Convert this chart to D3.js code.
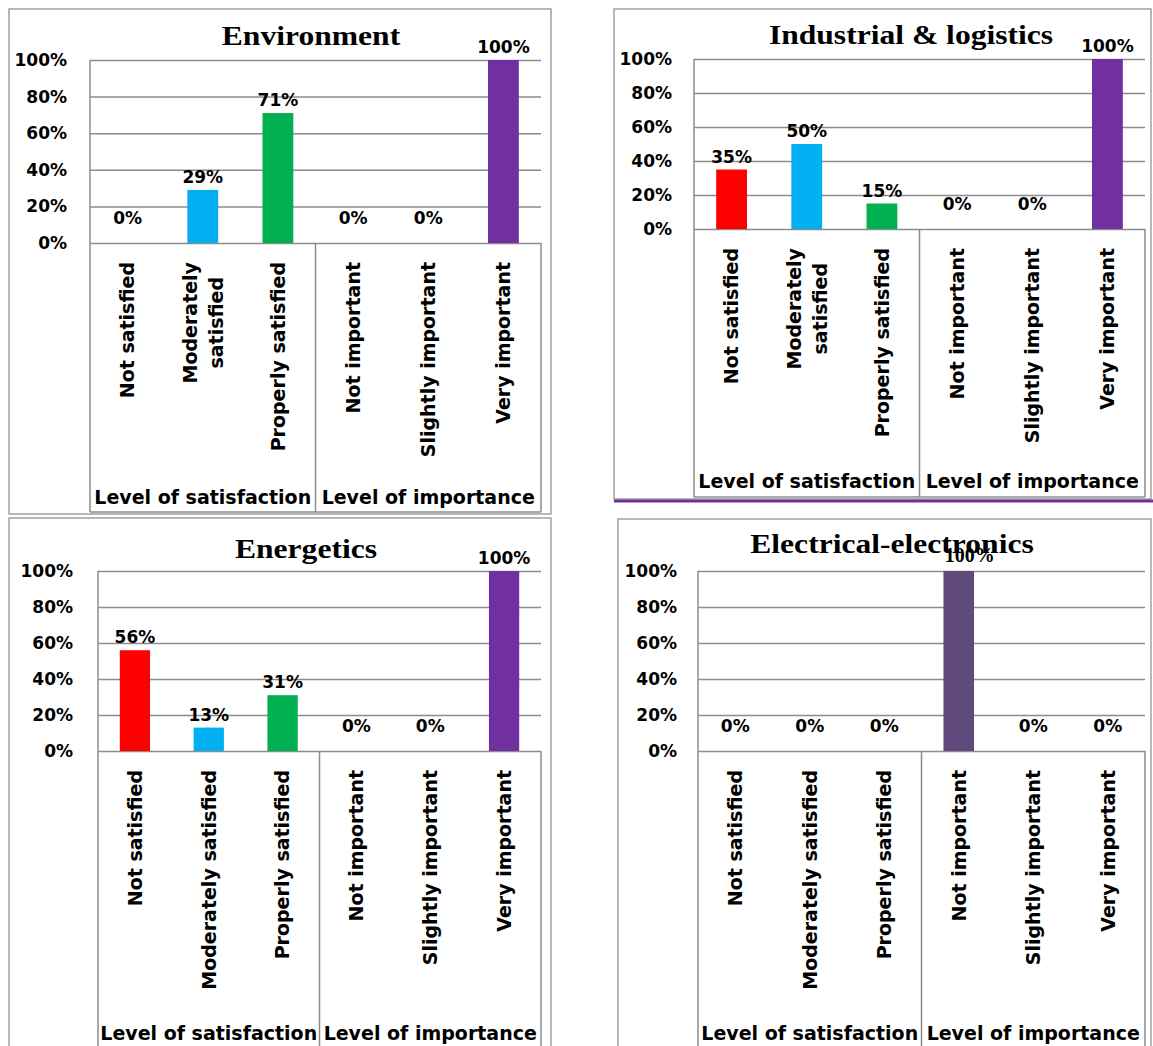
<!DOCTYPE html>
<html><head><meta charset="utf-8">
<script src="https://cdn.jsdelivr.net/npm/d3@7"></script>
<style>body{margin:0;background:#fff} svg{display:block}</style>
</head><body>
<svg id="c" width="1153" height="1046"></svg>
<script>
// ---- data ----
const categories = ["Not satisfied", "Moderately satisfied", "Properly satisfied", "Not important", "Slightly important", "Very important"];
const groupLabels = ["Level of satisfaction", "Level of importance"];
const groupSizes = [3, 3];
const yTickValues = [0, 0.2, 0.4, 0.6, 0.8, 1.0];
const panelTitles = ["Environment", "Industrial & logistics", "Energetics", "Electrical-electronics"];
const environmentValues = [0, 0.29, 0.71, 0, 0, 1.00];
const industrialValues = [0.35, 0.50, 0.15, 0, 0, 1.00];
const energeticsValues = [0.56, 0.13, 0.31, 0, 0, 1.00];
const electricalValues = [0, 0, 0, 1.00, 0, 0];
const categoryColors = ["#FF0000", "#00B0F0", "#00B050", "#7030A0", "#7030A0", "#7030A0"];
const electricalColors = ["#FF0000", "#00B0F0", "#00B050", "#604A7B", "#604A7B", "#604A7B"];

// ---- layout (positions / styles) ----
const panelValues = [environmentValues, industrialValues, energeticsValues, electricalValues];
const panelColors = [categoryColors, categoryColors, categoryColors, electricalColors];
const layouts = [
  {frame: [9, 9, 542, 505], plot: {l: 90, r: 541, t: 60, b: 243}, tableBottom: 512, title: [311, 45], catTop: 262, groupY: 497, yLabelX: 67},
  {frame: [614, 9, 537, 490], plot: {l: 694, r: 1145, t: 59, b: 229}, tableBottom: 497, title: [911, 44], catTop: 248, groupY: 481, yLabelX: 672, underline: 501},
  {frame: [9, 518, 542, 560], plot: {l: 98, r: 541, t: 571, b: 751}, tableBottom: 1070, title: [306, 558], catTop: 770, groupY: 1033, yLabelX: 73},
  {frame: [618, 519, 533, 560], plot: {l: 698, r: 1145, t: 571, b: 751}, tableBottom: 1070, title: [892, 553], catTop: 770, groupY: 1033, yLabelX: 677, serifLabel: true}
];
const SANS = "'DejaVu Sans', sans-serif";
const SERIF = "'Liberation Serif', 'Times New Roman', serif";
const GRID = "#8c8c8c";
const pct = d3.format(".0%");

const svg = d3.select("#c");

layouts.forEach((L, pi) => {
  const values = panelValues[pi];
  const colors = panelColors[pi];
  const g = svg.append("g");
  const P = L.plot;

  // frame
  g.append("rect").attr("x", L.frame[0]).attr("y", L.frame[1]).attr("width", L.frame[2]).attr("height", L.frame[3])
    .attr("fill", "none").attr("stroke", "#a0a0a0").attr("stroke-width", 1.5);
  if (L.underline) {
    g.append("line").attr("x1", L.frame[0]).attr("x2", 1153).attr("y1", L.underline).attr("y2", L.underline)
      .attr("stroke", "#7030A0").attr("stroke-width", 3);
  }

  const x = d3.scaleBand().domain(categories).range([P.l, P.r]).paddingInner(0.59).paddingOuter(0.295);
  const y = d3.scaleLinear().domain([0, 1]).range([P.b, P.t]);

  // gridlines
  g.append("g").attr("transform", `translate(${P.l},0)`)
    .call(d3.axisLeft(y).tickValues(yTickValues).tickSize(-(P.r - P.l)).tickFormat(""))
    .call(s => s.select(".domain").remove())
    .call(s => s.selectAll("line").attr("stroke", GRID).attr("stroke-width", 1.5));

  // y tick labels
  g.append("g").attr("transform", `translate(${P.l},0)`)
    .call(d3.axisLeft(y).tickValues(yTickValues).tickSize(0).tickPadding(P.l - L.yLabelX).tickFormat(pct))
    .call(s => s.select(".domain").remove())
    .call(s => s.selectAll("text").attr("font-family", SANS).attr("font-weight", "bold").attr("font-size", 17).attr("fill", "#000"));

  // table lines (category axis)
  const step = x.step();
  const dividers = [];
  let acc = 0;
  groupSizes.forEach(n => { dividers.push(P.l + acc * step); acc += n; });
  dividers.push(P.l + acc * step);
  g.append("line").attr("x1", P.l).attr("x2", P.l).attr("y1", P.t).attr("y2", L.tableBottom).attr("stroke", GRID).attr("stroke-width", 1.5);
  dividers.slice(1).forEach(dx => {
    g.append("line").attr("x1", dx).attr("x2", dx).attr("y1", P.b).attr("y2", L.tableBottom).attr("stroke", GRID).attr("stroke-width", 1.5);
  });
  g.append("line").attr("x1", P.l).attr("x2", P.r).attr("y1", L.tableBottom).attr("y2", L.tableBottom).attr("stroke", GRID).attr("stroke-width", 1.5);

  // bars
  g.selectAll("rect.bar").data(values).join("rect").attr("class", "bar")
    .attr("x", (d, i) => x(categories[i]))
    .attr("width", x.bandwidth())
    .attr("y", d => y(d))
    .attr("height", d => y(0) - y(d))
    .attr("fill", (d, i) => colors[i]);

  // value labels
  values.forEach((v, i) => {
    const cx = x(categories[i]) + x.bandwidth() / 2;
    if (L.serifLabel && v > 0) {
      g.append("text").attr("x", cx + 11).attr("y", y(v) - 9).attr("text-anchor", "middle")
        .attr("font-family", SERIF).attr("font-weight", "bold").attr("font-size", 20).text(pct(v));
    } else {
      g.append("text").attr("x", cx).attr("y", y(v) - (v === 0 ? 19 : 7)).attr("text-anchor", "middle")
        .attr("font-family", SANS).attr("font-weight", "bold").attr("font-size", 17).text(pct(v));
    }
  });

  // title
  g.append("text").attr("transform", `translate(${L.title[0]},${L.title[1]}) scale(1.17,1)`)
    .attr("text-anchor", "middle").attr("font-family", SERIF).attr("font-weight", "bold").attr("font-size", 27)
    .text(panelTitles[pi]);

  // category labels (rotated, wrapped if too long)
  const avail = L.groupY - L.catTop - 20;
  categories.forEach((c, i) => {
    const cx = x(c) + x.bandwidth() / 2;
    const t = g.append("text").attr("font-family", SANS).attr("font-weight", "bold").attr("font-size", 19)
      .attr("text-anchor", "end").attr("transform", `translate(${cx},${L.catTop}) rotate(-90)`).attr("dy", "0.36em").text(c);
    const len = t.node().getComputedTextLength();
    if (len > avail && c.indexOf(" ") > 0) {
      t.remove();
      const sp = c.indexOf(" ");
      const lines = [c.slice(0, sp), c.slice(sp + 1)];
      const tt = g.append("text").attr("font-family", SANS).attr("font-weight", "bold").attr("font-size", 19)
        .attr("text-anchor", "middle");
      const spans = lines.map(l => tt.append("tspan").text(l));
      const maxLen = d3.max(spans, s => s.node().getComputedTextLength());
      tt.attr("transform", `translate(${cx},${L.catTop + maxLen / 2}) rotate(-90)`);
      const lh = 26;
      spans.forEach((s, k) => s.attr("x", 0).attr("y", (k - (lines.length - 1) / 2) * lh).attr("dy", "0.36em"));
    }
  });

  // group labels
  groupLabels.forEach((gl, k) => {
    g.append("text").attr("x", (dividers[k] + dividers[k + 1]) / 2).attr("y", L.groupY).attr("dy", "0.36em")
      .attr("text-anchor", "middle").attr("font-family", SANS).attr("font-weight", "bold").attr("font-size", 19).text(gl);
  });
});
</script>
</body></html>
